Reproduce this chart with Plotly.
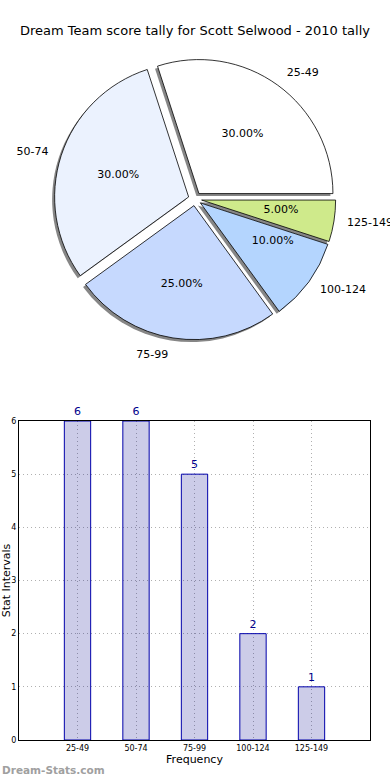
import plotly.graph_objects as go

categories = ["25-49", "50-74", "75-99", "100-124", "125-149"]
counts = [6, 6, 5, 2, 1]
pie_colors = ["#ffffff", "#ebf2fe", "#c6d9fe", "#b4d5fe", "#cfea8b"]

W, H = 390, 780
title = "Dream Team score tally for Scott Selwood - 2010 tally"

# pie geometry (pixels)
cx, cy, r = 195, 199, 134
pull = 0.05
rot = -18  # first slice starts at 3 o'clock, going counterclockwise

def dom(rad, dx=0, dy=0):
    h = rad * (1 + pull)
    return dict(x=[(cx + dx - h) / W, (cx + dx + h) / W],
                y=[(H - (cy + dy) - h) / H, (H - (cy + dy) + h) / H])

common = dict(labels=categories, values=counts, sort=False, direction="counterclockwise",
              rotation=rot, pull=[pull] * 5, showlegend=False, automargin=False)
txtfont = dict(family="DejaVu Sans", size=11, color="#000000")
clear = dict(colors=["rgba(0,0,0,0)"] * 5, line=dict(width=0))

fig = go.Figure()

# shadow
fig.add_trace(go.Pie(
    **common, domain=dom(r, -2.5, 2.5),
    marker=dict(colors=["#7a7a7a"] * 5, line=dict(width=0)),
    textinfo="none", hoverinfo="skip", opacity=0.9,
))
# main pie, percentages of the large slices inside
fig.add_trace(go.Pie(
    **common, domain=dom(r),
    marker=dict(colors=pie_colors, line=dict(color="#000000", width=0.8)),
    texttemplate="%{percent:.2%}",
    textposition=["inside", "inside", "inside", "none", "none"],
    insidetextorientation="horizontal", textfont=txtfont,
))
# percentages of the small slices, on an inner ring
fig.add_trace(go.Pie(
    **common, domain=dom(63),
    marker=clear, texttemplate="%{percent:.2%}",
    textposition=["none", "none", "none", "outside", "outside"],
    textfont=txtfont, hoverinfo="skip",
))
# outside labels
fig.add_trace(go.Pie(
    **common, domain=dom(r * 1.07),
    marker=clear, textinfo="label", textposition="outside",
    textfont=txtfont, hoverinfo="skip",
))

# bar chart
fig.add_trace(go.Bar(
    x=categories, y=counts, width=0.45,
    marker=dict(color="rgba(0,0,140,0.2)", line=dict(color="#0000aa", width=1)),
    text=[str(v) for v in counts], textposition="outside",
    textfont=dict(family="DejaVu Sans", size=11, color="#00008b"),
    cliponaxis=False, showlegend=False, xaxis="x", yaxis="y",
))

grid = dict(showgrid=True, gridcolor="#b0b0b0", griddash="1px,3px", gridwidth=1)

fig.update_layout(
    template="none",
    width=W, height=H,
    margin=dict(l=0, r=0, t=0, b=0),
    paper_bgcolor="white", plot_bgcolor="white",
    font=dict(family="DejaVu Sans", color="#000000"),
    title=dict(text=title, x=0.5, xanchor="center", y=1 - 30 / H, yanchor="middle",
               font=dict(family="DejaVu Sans", size=13, color="#000000")),
    xaxis=dict(domain=[19 / W, 370 / W], range=[-1, 5], type="category",
               showline=True, linecolor="#000000", linewidth=1, mirror=True,
               ticks="", tickfont=dict(size=8, family="DejaVu Sans"),
               title=dict(text="Frequency", font=dict(size=11), standoff=2),
               anchor="y", zeroline=False, automargin=False, **grid),
    yaxis=dict(domain=[40 / H, 359 / H], range=[0, 6], dtick=1,
               showline=True, linecolor="#000000", linewidth=1, mirror=True,
               ticks="", tickfont=dict(size=8, family="DejaVu Sans"),
               title=dict(text="Stat Intervals", font=dict(size=11), standoff=9),
               anchor="x", zeroline=False, automargin=False, **grid),
    annotations=[dict(text="<b>Dream-Stats.com</b>", x=0, y=1 - 770 / H,
                      xref="paper", yref="paper", xanchor="left", yanchor="middle",
                      showarrow=False, font=dict(size=10.5, color="#a0a0a0", family="DejaVu Sans"))],
)

fig.write_html("out.html", config={"displayModeBar": False},
               post_script="document.body.style.margin='0px';")
